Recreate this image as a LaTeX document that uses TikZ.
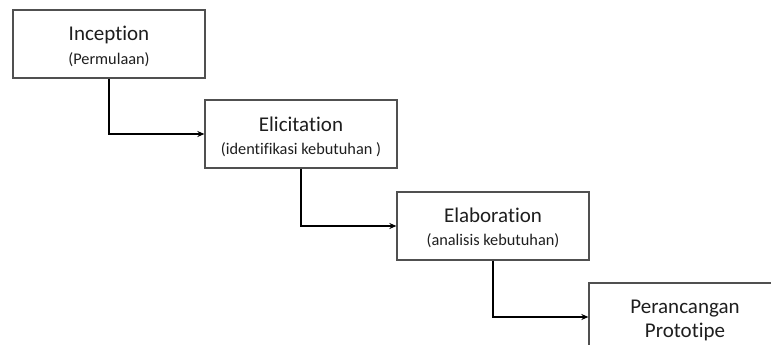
\documentclass[tikz,border=0pt]{standalone}
\usepackage{fontspec}
\setmainfont[Ligatures={NoCommon,NoDiscretionary,NoRare}]{Carlito}
\usepackage{tikz}
\usetikzlibrary{arrows.meta,positioning,calc}
\definecolor{boxgray}{RGB}{80, 80, 80}
\definecolor{textgray}{RGB}{30, 30, 30}

\begin{document}
\begin{tikzpicture}[x=1pt, y=-1pt, >={Stealth[length=7pt,width=6pt]},
    stage/.style={draw=boxgray, line width=1.3pt, minimum width=192pt, minimum height=68pt, inner sep=0pt},
    headtext/.style={anchor=base, text=textgray, font=\fontsize{21}{24}\selectfont},
    subtext/.style={anchor=base, text=textgray, font=\fontsize{16.3}{19}\selectfont},
    link/.style={->, line width=1.4pt, black}]
    % Canvas
    \useasboundingbox (0,0) rectangle (771,345);
    \clip (0,0) rectangle (771,345);

    % Stages
    \node[stage] (inception) at (109, 44) {};
    \node[headtext] (inception-t) at (109, 41) {Inception};
    \node[subtext] (inception-s) at (109, 64) {(Permulaan)};

    \node[stage] (elicitation) at (301, 134) {};
    \node[headtext] (elicitation-t) at (301, 131) {Elicitation};
    \node[subtext] (elicitation-s) at (301, 154) {(identifikasi kebutuhan )};

    \node[stage] (elaboration) at (493, 226) {};
    \node[headtext] (elaboration-t) at (493, 222) {Elaboration};
    \node[subtext] (elaboration-s) at (493, 245) {(analisis kebutuhan)};

    \node[stage] (prototipe) at (685, 317) {};
    \node[headtext] (prototipe-t) at (685, 313) {Perancangan};
    \node[headtext] (prototipe-s) at (685, 337) {Prototipe};

    % Flow
    \draw[link] (inception.south) |- (elicitation.west);
    \draw[link] (elicitation.south) |- (elaboration.west);
    \draw[link] (elaboration.south) |- (prototipe.west);
\end{tikzpicture}
\end{document}
